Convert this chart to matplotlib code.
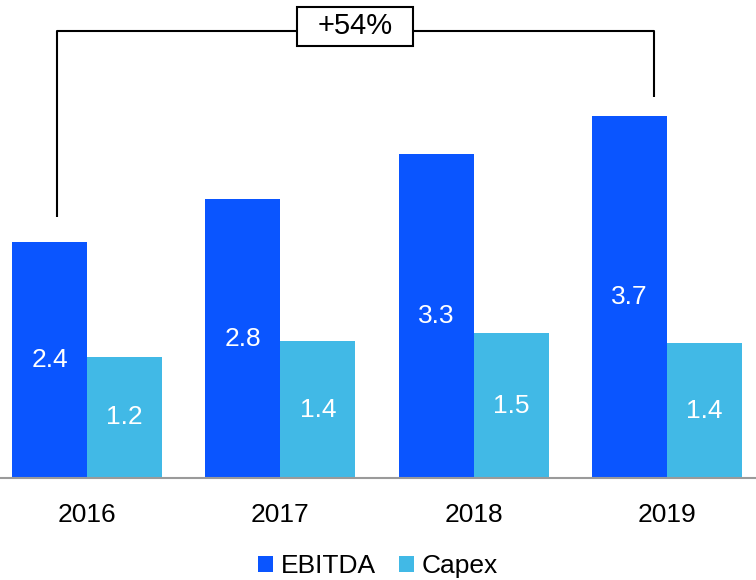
import numpy as np
import matplotlib
matplotlib.use('Agg')
import matplotlib.pyplot as plt
from matplotlib.patches import Rectangle

years = ['2016', '2017', '2018', '2019']
ebitda = [2.41, 2.85, 3.31, 3.70]
capex = [1.24, 1.40, 1.48, 1.38]
ebitda_labels = ['2.4', '2.8', '3.3', '3.7']
capex_labels = ['1.2', '1.4', '1.5', '1.4']
growth_label = '+54%'

plt.rcParams['font.family'] = ['Liberation Sans', 'DejaVu Sans']

blue = '#0A55FF'
light_blue = '#41B9E6'

fig = plt.figure(figsize=(7.56, 5.8), dpi=100)
ax = fig.add_axes([0, 1 - 478 / 580, 1, 478 / 580])

x = np.arange(len(years))
w = 0.388
b1 = ax.bar(x - w / 2, ebitda, w, color=blue, label='EBITDA')
b2 = ax.bar(x + w / 2, capex, w, color=light_blue, label='Capex')

# value labels in the middle of bars
for bars, vals, labs in ((b1, ebitda, ebitda_labels), (b2, capex, capex_labels)):
    for r, v, t in zip(bars, vals, labs):
        ax.text(r.get_x() + r.get_width() / 2, v / 2, t,
                ha='center', va='center', color='white', fontsize=19)

ax.set_xlim(-0.45, 3.46)
ax.set_ylim(0, 4.89)
ax.set_xticks(x)
ax.set_xticklabels(years, fontsize=19)
ax.tick_params(axis='x', length=0, pad=18)
ax.set_yticks([])
for s in ['top', 'right', 'left']:
    ax.spines[s].set_visible(False)
ax.spines['bottom'].set_color('#9a9a9a')
ax.spines['bottom'].set_linewidth(1.5)

# growth bracket
xl = x[0] - w / 2 + 0.04
xr = x[-1] - 0.07
top = 4.57
ax.plot([xl, xl, xr, xr], [ebitda[0] + 0.26, top, top, ebitda[-1] + 0.2],
        color='black', lw=1.5, solid_capstyle='butt', zorder=3)
xm = 1.386
bw, bh = 0.6, 0.4
ax.add_patch(Rectangle((xm - bw / 2, top - bh / 2 + 0.05), bw, bh,
                       facecolor='white', edgecolor='black', lw=1.5, zorder=4,
                       clip_on=False))
ax.text(xm, top + 0.05, growth_label, ha='center', va='center', fontsize=21, zorder=5)

fig.legend(handles=[b1, b2], labels=['EBITDA', 'Capex'], loc='center',
           bbox_to_anchor=(0.5, 0.024), ncol=2, frameon=False, fontsize=19,
           handlelength=0.55, handleheight=0.55, handletextpad=0.3,
           columnspacing=0.9, borderaxespad=0)

fig.savefig('out.png', dpi=100)
